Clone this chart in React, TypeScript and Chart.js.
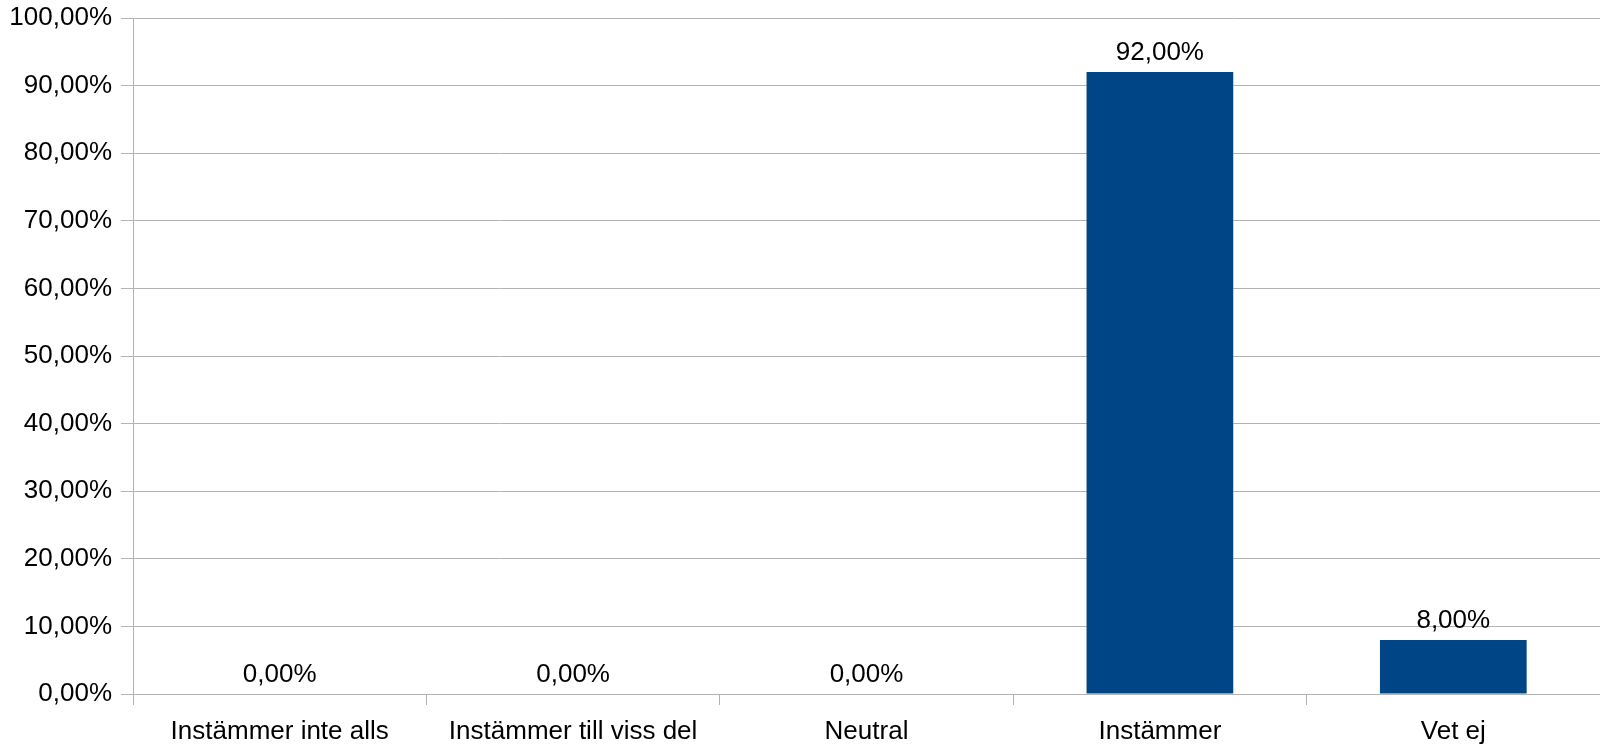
import React, { useEffect, useRef } from "react";
import { Chart, registerables } from "chart.js";

Chart.register(...registerables);

const categories = ["Instämmer inte alls", "Instämmer till viss del", "Neutral", "Instämmer", "Vet ej"];
const values = [0, 0, 0, 92, 8];
const yMax = 100;
const yStep = 10;

const fmt = (v: number) => v.toFixed(2).replace(".", ",") + "%";

const FONT = "'Liberation Sans', Arial, sans-serif";
const GRID = "#b3b3b3";
const BAR = "#004586";

const labelPlugin = {
  id: "barLabels",
  afterDatasetsDraw(chart: any) {
    const ctx = chart.ctx;
    const meta = chart.getDatasetMeta(0);
    ctx.save();
    ctx.font = `26px ${FONT}`;
    ctx.fillStyle = "#000";
    ctx.textAlign = "center";
    ctx.textBaseline = "alphabetic";
    meta.data.forEach((el: any, i: number) => {
      ctx.fillText(fmt(values[i]), el.x, el.y - 12);
    });
    ctx.restore();
  },
};

export default function App() {
  const ref = useRef<HTMLCanvasElement>(null);
  useEffect(() => {
    document.body.style.margin = "0";
    const chart = new Chart(ref.current!, {
      type: "bar",
      data: {
        labels: categories,
        datasets: [
          {
            data: values,
            backgroundColor: BAR,
            borderWidth: 0,
            barPercentage: 0.5,
            categoryPercentage: 1,
          },
        ],
      },
      options: {
        animation: false,
        responsive: false,
        maintainAspectRatio: false,
        layout: { padding: { top: 18, right: 0, left: 0, bottom: 0 } },
        plugins: { legend: { display: false }, tooltip: { enabled: false } },
        scales: {
          x: {
            afterFit: (s: any) => {
              s.height = 50;
              s.paddingLeft = 0;
              s.paddingRight = 0;
            },
            grid: {
              offset: true,
              drawOnChartArea: false,
              drawTicks: true,
              tickLength: 11,
              color: GRID,
            },
            border: { color: GRID },
            ticks: { color: "#000", font: { family: FONT, size: 26 }, padding: 11, maxRotation: 0 },
          },
          y: {
            min: 0,
            max: yMax,
            afterFit: (s: any) => {
              s.width = 133;
              s.paddingTop = 0;
              s.paddingBottom = 0;
            },
            grid: { color: GRID, tickLength: 12 },
            border: { color: GRID },
            ticks: {
              stepSize: yStep,
              color: "#000",
              font: { family: FONT, size: 26 },
              padding: 9,
              callback: (v: any) => fmt(Number(v)),
            },
          },
        },
      },
      plugins: [labelPlugin],
    });
    return () => chart.destroy();
  }, []);
  return (
    <div style={{ position: "absolute", left: 0, top: 0, width: 1600, height: 744 }}>
      <canvas ref={ref} width={1600} height={744} style={{ display: "block" }} />
    </div>
  );
}
